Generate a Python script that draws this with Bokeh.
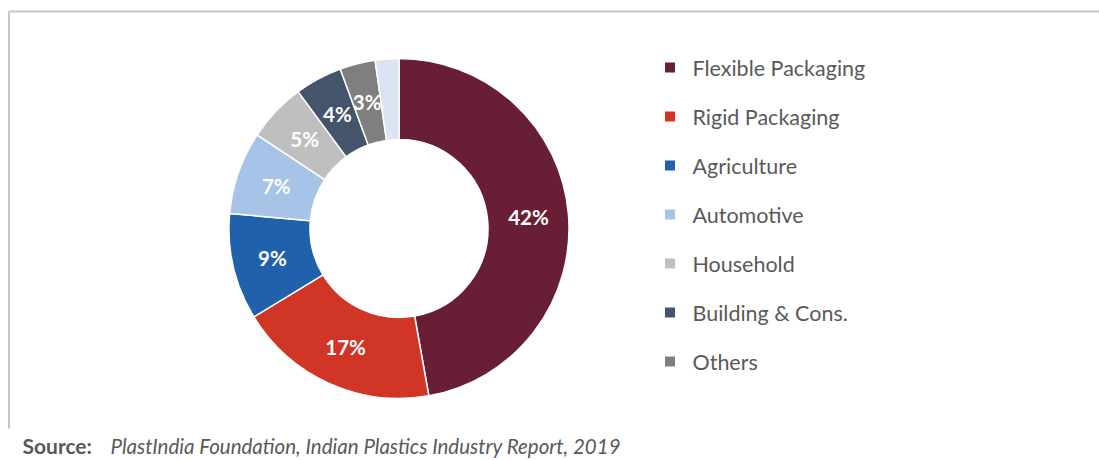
import numpy as np
from bokeh.plotting import figure
from bokeh.models import ColumnDataSource, Range1d
from bokeh.core.properties import value
from bokeh.embed import file_html
from bokeh.resources import INLINE

# ---- data ----
categories = ["Flexible Packaging", "Rigid Packaging", "Agriculture", "Automotive",
              "Household", "Building & Cons.", "Others", "(unlabelled)"]
shares = [42, 17, 9, 7, 5, 4, 3, 2]
slice_labels = ["42%", "17%", "9%", "7%", "5%", "4%", "3%", ""]
colors = ["#681f36", "#d03526", "#1f62ab", "#a7c3e7", "#bfbfbf", "#44546a", "#7f7f7f", "#dce3f2"]
in_legend = [True, True, True, True, True, True, True, False]
source_label = "Source:"
source_text = "PlastIndia Foundation, Indian Plastics Industry Report, 2019"

FONT = "Lato"
GREY_TXT = "#595959"

W, H = 1099, 460
p = figure(width=W, height=H, x_range=Range1d(0, W), y_range=Range1d(0, H),
           output_backend="svg", toolbar_location=None, min_border=0,
           x_axis_location=None, y_axis_location=None)
p.grid.visible = False
p.outline_line_color = None
p.background_fill_color = "white"
p.border_fill_color = "white"

# frame lines
p.line([8.5, W], [449, 449], line_color="#c6c6c6", line_width=2)
p.line([8.5, 8.5], [32, 449], line_color="#c6c6c6", line_width=2)

# ---- donut ----
cx, cy = 398.5, 232.0
r_in, r_out = 89, 170
vals = np.array(shares, dtype=float)
total = vals.sum()
cum_after = np.cumsum(vals)
cum_before = cum_after - vals
start = np.pi / 2 - 2 * np.pi * cum_before / total
end = np.pi / 2 - 2 * np.pi * cum_after / total
mid = np.pi / 2 - 2 * np.pi * (cum_before + vals / 2) / total

src = ColumnDataSource(dict(start=start, end=end, color=colors, cat=categories))
p.annular_wedge(x=cx, y=cy, inner_radius=r_in, outer_radius=r_out,
                start_angle="start", end_angle="end", direction="clock",
                fill_color="color", line_color="white", line_width=1.5, source=src)

r_lab = 130
lab_src = ColumnDataSource(dict(x=cx + r_lab * np.cos(mid), y=cy + r_lab * np.sin(mid),
                                t=slice_labels))
p.text(x="x", y="y", text="t", source=lab_src, text_color="white",
       text_font=value(FONT), text_font_style="bold", text_font_size="20.5px",
       text_align="center", text_baseline="middle")

# ---- legend ----
leg_idx = [i for i, f in enumerate(in_legend) if f]
leg_y0, leg_dy = 393, 49
leg_src = ColumnDataSource(dict(
    y=[leg_y0 - k * leg_dy for k in range(len(leg_idx))],
    color=[colors[i] for i in leg_idx],
    name=[categories[i] for i in leg_idx]))
p.scatter(x=669.5, y="y", marker="square", size=10, fill_color="color",
          line_color=None, source=leg_src)
p.text(x=692, y="y", text="name", source=leg_src, text_color=GREY_TXT,
       text_font=value(FONT), text_font_size="21.5px",
       text_align="left", text_baseline="middle")

# ---- source note ----
p.text(x=[22], y=[15], text=[source_label], text_color=GREY_TXT,
       text_font=value(FONT), text_font_style="bold", text_font_size="21px",
       text_align="left", text_baseline="alphabetic")
p.text(x=[110], y=[15], text=[source_text], text_color=GREY_TXT,
       text_font=value(FONT), text_font_style="italic", text_font_size="20.5px",
       text_align="left", text_baseline="alphabetic")

open("out.html", "w").write(file_html(p, INLINE))
